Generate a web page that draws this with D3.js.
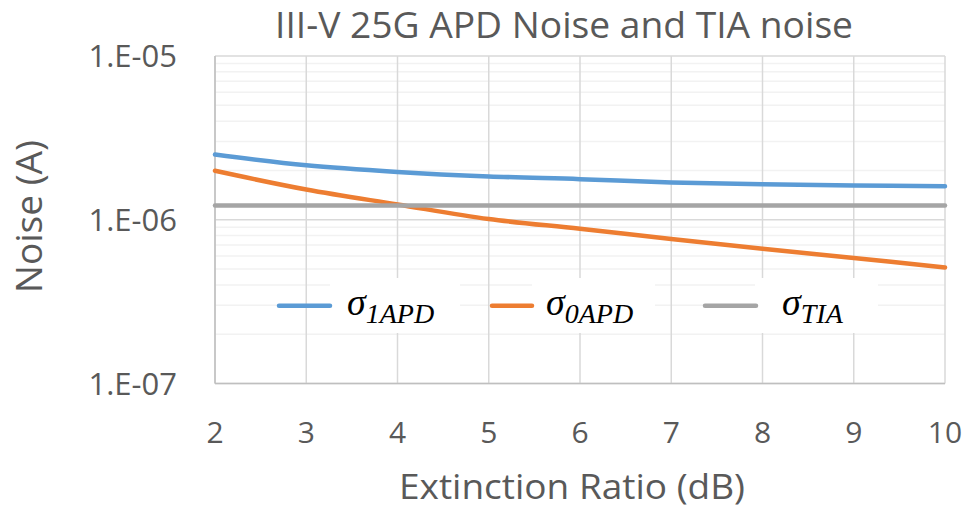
<!DOCTYPE html>
<html>
<head>
<meta charset="utf-8">
<script src="https://cdn.jsdelivr.net/npm/d3@7"></script>
<style>
  body { margin: 0; background: #fff; }
  text { font-family: "Open Sans", sans-serif; fill: #595959; }
  .leg text { font-family: "Liberation Serif", serif; font-style: italic; fill: #000; }
</style>
</head>
<body>
<script>
// data
var extinctionRatio = [2, 3, 4, 5, 6, 7, 8, 9, 10];
var sigma1APD = [2.50e-6, 2.15e-6, 1.96e-6, 1.84e-6, 1.77e-6, 1.69e-6, 1.65e-6, 1.62e-6, 1.60e-6];
var sigma0APD = [1.99e-6, 1.53e-6, 1.24e-6, 1.01e-6, 0.881e-6, 0.762e-6, 0.665e-6, 0.584e-6, 0.511e-6];
var sigmaTIA  = [1.22e-6, 1.22e-6, 1.22e-6, 1.22e-6, 1.22e-6, 1.22e-6, 1.22e-6, 1.22e-6, 1.22e-6];
var yTicks = [1e-5, 1e-6, 1e-7];
var yTickLabels = ["1.E-05", "1.E-06", "1.E-07"];
var seriesNames = [["σ", "1APD"], ["σ", "0APD"], ["σ", "TIA"]];
var colors = ["#5b9bd5", "#ed7d31", "#a5a5a5"];

var W = 967, H = 509;
var margin = {top: 56, right: 22, bottom: 125.5, left: 215},
    width = W - margin.left - margin.right,
    height = H - margin.top - margin.bottom;

var x = d3.scaleLinear().domain([2, 10]).range([0, width]),
    y = d3.scaleLog().domain([1e-7, 1e-5]).range([height, 0]);

var svg = d3.select("body").append("svg")
    .attr("width", W).attr("height", H);

var g = svg.append("g")
    .attr("transform", "translate(" + margin.left + "," + margin.top + ")");

// minor gridlines (2..9 of each decade)
var minor = [];
[1e-7, 1e-6].forEach(function(d) {
  for (var k = 2; k <= 9; k++) minor.push(d * k);
});
g.append("g").selectAll("line").data(minor).enter().append("line")
  .attr("x1", 0).attr("x2", width)
  .attr("y1", function(d) { return y(d); }).attr("y2", function(d) { return y(d); })
  .attr("stroke", "#f2f2f2").attr("stroke-width", 1.5);

// major gridlines
g.append("g").selectAll("line").data(extinctionRatio).enter().append("line")
  .attr("x1", function(d) { return x(d); }).attr("x2", function(d) { return x(d); })
  .attr("y1", 0).attr("y2", height)
  .attr("stroke", "#d9d9d9").attr("stroke-width", 1.5);
g.append("g").selectAll("line").data(yTicks).enter().append("line")
  .attr("x1", 0).attr("x2", width)
  .attr("y1", function(d) { return y(d); }).attr("y2", function(d) { return y(d); })
  .attr("stroke", "#d9d9d9").attr("stroke-width", 1.5);

// axis lines
g.append("line").attr("x1", 0).attr("x2", 0).attr("y1", 0).attr("y2", height)
  .attr("stroke", "#bfbfbf").attr("stroke-width", 1.5);
g.append("line").attr("x1", 0).attr("x2", width).attr("y1", height).attr("y2", height)
  .attr("stroke", "#bfbfbf").attr("stroke-width", 1.5);

// tick labels
g.append("g").selectAll("text").data(yTicks).enter().append("text")
  .attr("x", -38).attr("y", function(d) { return y(d); })
  .attr("dy", "0.36em").attr("text-anchor", "end")
  .style("font-size", "31px")
  .text(function(d, i) { return yTickLabels[i]; });

g.append("g").selectAll("text").data(extinctionRatio).enter().append("text")
  .attr("x", function(d) { return x(d); }).attr("y", 443 - margin.top)
  .attr("text-anchor", "middle")
  .style("font-size", "30px")
  .text(function(d) { return d; });

// series
var line = d3.line()
  .x(function(d, i) { return x(extinctionRatio[i]); })
  .y(function(d) { return y(d); })
  .curve(d3.curveCatmullRom.alpha(0.5));

// legend boxes (behind lines, over gridlines)
var leg = svg.append("g").attr("class", "leg");
var legX = [279, 492, 705];
var legLen = [51, 40, 51];
var textX = [347, 546, 782];
var boxes = [[330, 460], [532, 655], [755, 878]];
leg.selectAll("rect").data(boxes).enter().append("rect")
  .attr("x", function(d) { return d[0]; }).attr("y", 278)
  .attr("width", function(d) { return d[1] - d[0]; }).attr("height", 55)
  .attr("fill", "#fff");

[sigma1APD, sigma0APD, sigmaTIA].forEach(function(s, i) {
  g.append("path").datum(s)
    .attr("fill", "none").attr("stroke", colors[i])
    .attr("stroke-width", 4.5).attr("stroke-linecap", "round")
    .attr("d", line);
});

seriesNames.forEach(function(n, i) {
  leg.append("line")
    .attr("x1", legX[i]).attr("x2", legX[i] + legLen[i])
    .attr("y1", 305.7).attr("y2", 305.7)
    .attr("stroke", colors[i]).attr("stroke-width", 4.5).attr("stroke-linecap", "round");
  var t = leg.append("text").attr("x", textX[i]).attr("y", 315);
  t.append("tspan").style("font-size", "38px").text(n[0]);
  t.append("tspan").attr("dy", 8).style("font-size", "28px").text(n[1]);
});

// titles
svg.append("text")
  .attr("x", 275).attr("y", 37.7)
  .attr("textLength", 578).attr("lengthAdjust", "spacingAndGlyphs")
  .style("font-size", "36px")
  .text("III-V 25G APD Noise and TIA noise");

svg.append("text")
  .attr("x", 399).attr("y", 499)
  .attr("textLength", 346).attr("lengthAdjust", "spacingAndGlyphs")
  .style("font-size", "34px")
  .text("Extinction Ratio (dB)");

svg.append("text")
  .attr("transform", "translate(42,293) rotate(-90)")
  .attr("textLength", 153).attr("lengthAdjust", "spacingAndGlyphs")
  .style("font-size", "36px")
  .text("Noise (A)");
</script>
</body>
</html>
